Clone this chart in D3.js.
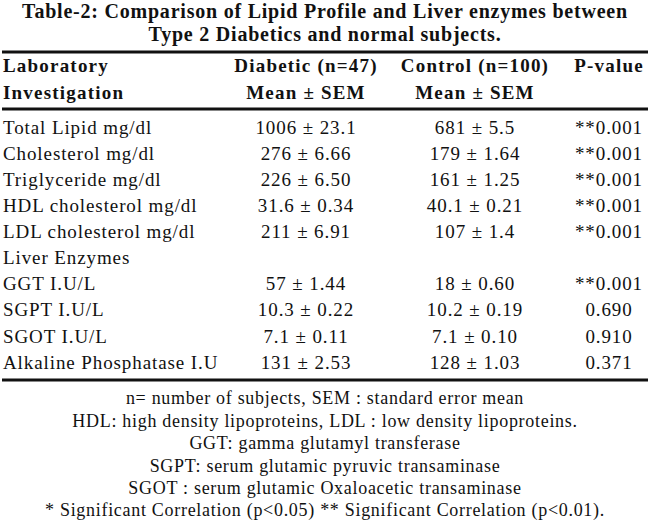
<!DOCTYPE html>
<html>
<head>
<meta charset="utf-8">
<script src="https://cdn.jsdelivr.net/npm/d3@7"></script>
<style>
  body { margin: 0; background: #fff; }
  text { font-family: "Liberation Serif", "DejaVu Serif", serif; fill: #111; }
</style>
</head>
<body>
<div id="table"></div>
<script>
const width = 650;
const height = 524;

// table content
const titleLines = [
    "Table-2: Comparison of Lipid Profile and Liver enzymes between",
    "Type 2 Diabetics and normal subjects."
];
const headerTop = ["Laboratory", "Diabetic (n=47)", "Control (n=100)", "P-value"];
const headerBottom = ["Investigation", "Mean \u00b1 SEM", "Mean \u00b1 SEM", ""];

const investigations = [
    "Total Lipid mg/dl", "Cholesterol mg/dl", "Triglyceride mg/dl",
    "HDL cholesterol mg/dl", "LDL cholesterol mg/dl", "Liver Enzymes",
    "GGT I.U/L", "SGPT I.U/L", "SGOT I.U/L", "Alkaline Phosphatase I.U"
];
const diabeticMean = ["1006", "276", "226", "31.6", "211", "", "57", "10.3", "7.1", "131"];
const diabeticSem = ["23.1", "6.66", "6.50", "0.34", "6.91", "", "1.44", "0.22", "0.11", "2.53"];
const controlMean = ["681", "179", "161", "40.1", "107", "", "18", "10.2", "7.1", "128"];
const controlSem = ["5.5", "1.64", "1.25", "0.21", "1.4", "", "0.60", "0.19", "0.10", "1.03"];
const pValues = ["0.001", "0.001", "0.001", "0.001", "0.001", "", "0.001", "0.690", "0.910", "0.371"];
const stars = ["**", "**", "**", "**", "**", "", "**", "", "", ""];

const footnotes = [
    "n= number of subjects, SEM : standard error mean",
    "HDL: high density lipoproteins, LDL : low density lipoproteins.",
    "GGT: gamma glutamyl transferase",
    "SGPT: serum glutamic pyruvic transaminase",
    "SGOT : serum glutamic Oxaloacetic transaminase",
    "* Significant Correlation (p<0.05) ** Significant Correlation (p<0.01)."
];

const svg = d3.select("#table")
    .append("svg")
    .attr("width", width)
    .attr("height", height);

// column positions: first column left aligned, the rest centred
const colX = d3.scaleOrdinal()
    .domain(["label", "diabetic", "control", "p"])
    .range([3, 306, 475, 609]);

const rowY = d3.scalePoint()
    .domain(investigations)
    .range([127, 362]);

const footY = d3.scalePoint()
    .domain(d3.range(footnotes.length))
    .range([398, 510]);

// title
svg.selectAll("text.title")
    .data(titleLines)
    .enter()
    .append("text")
    .attr("class", "title")
    .attr("x", width / 2)
    .attr("y", (d, i) => 18 + i * 23)
    .attr("text-anchor", "middle")
    .attr("font-size", "20px")
    .attr("font-weight", "bold")
    .attr("letter-spacing", "0.78px")
    .text(d => d);

// horizontal rules
const rules = [52, 109, 380];
svg.selectAll("line.rule")
    .data(rules)
    .enter()
    .append("line")
    .attr("class", "rule")
    .attr("x1", 2)
    .attr("x2", 648)
    .attr("y1", d => d)
    .attr("y2", d => d)
    .attr("stroke", "#111")
    .attr("stroke-width", 2.8);

// header
const cols = colX.domain();
[headerTop, headerBottom].forEach((row, r) => {
    svg.selectAll("text.head" + r)
        .data(row)
        .enter()
        .append("text")
        .attr("class", "head" + r)
        .attr("x", (d, i) => colX(cols[i]))
        .attr("y", 65 + r * 27)
        .attr("dy", "0.35em")
        .attr("text-anchor", (d, i) => i === 0 ? "start" : "middle")
        .attr("font-size", "19px")
        .attr("font-weight", "bold")
        .attr("letter-spacing", "1.2px")
        .text(d => d);
});

// body rows
const rows = investigations.map((name, i) => ({
    name,
    diabetic: diabeticMean[i] ? `${diabeticMean[i]} \u00b1 ${diabeticSem[i]}` : "",
    control: controlMean[i] ? `${controlMean[i]} \u00b1 ${controlSem[i]}` : "",
    p: stars[i] + pValues[i]
}));

const g = svg.selectAll("g.row")
    .data(rows)
    .enter()
    .append("g")
    .attr("class", "row")
    .attr("transform", d => `translate(0,${rowY(d.name)})`);

g.append("text")
    .attr("x", colX("label"))
    .attr("dy", "0.35em")
    .attr("font-size", "19px")
    .attr("letter-spacing", "0.9px")
    .text(d => d.name);

["diabetic", "control", "p"].forEach(key => {
    g.append("text")
        .attr("x", colX(key))
        .attr("dy", "0.35em")
        .attr("text-anchor", "middle")
        .attr("font-size", "19px")
        .attr("letter-spacing", "0.9px")
        .text(d => d[key]);
});

// footnotes
svg.selectAll("text.foot")
    .data(footnotes)
    .enter()
    .append("text")
    .attr("class", "foot")
    .attr("x", width / 2)
    .attr("y", (d, i) => footY(i))
    .attr("dy", "0.35em")
    .attr("text-anchor", "middle")
    .attr("font-size", "18px")
    .attr("letter-spacing", "0.7px")
    .text(d => d);
</script>
</body>
</html>
